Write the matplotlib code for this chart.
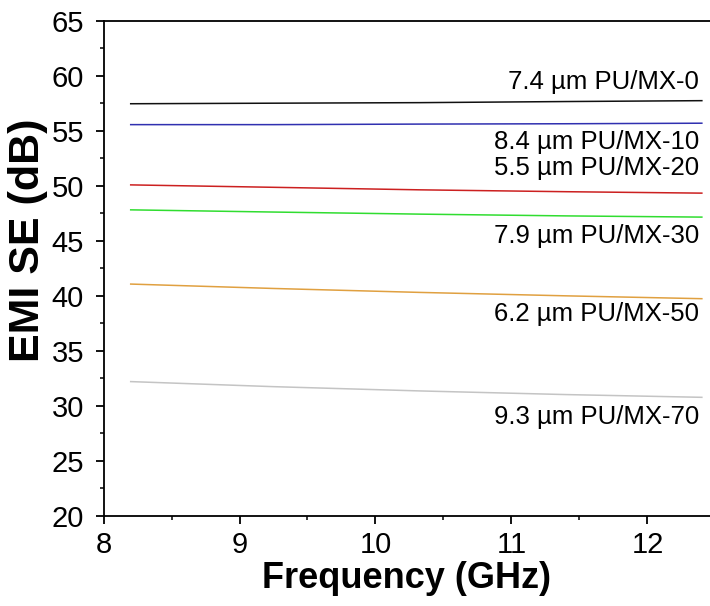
import matplotlib
matplotlib.use("Agg")
import matplotlib.pyplot as plt
from matplotlib.ticker import MultipleLocator

plt.rcParams["font.family"] = ["Liberation Sans", "DejaVu Sans"]

# data
freq = [8.2, 9.25, 10.33, 11.4, 12.4]
se_mx0 = [57.45, 57.50, 57.55, 57.65, 57.73]
se_mx10 = [55.55, 55.55, 55.60, 55.63, 55.68]
se_mx20 = [50.07, 49.85, 49.62, 49.45, 49.32]
se_mx30 = [47.80, 47.60, 47.41, 47.25, 47.14]
se_mx50 = [41.05, 40.65, 40.29, 39.98, 39.72]
se_mx70 = [32.18, 31.72, 31.33, 31.00, 30.75]

labels = ["7.4 µm PU/MX-0", "8.4 µm PU/MX-10", "5.5 µm PU/MX-20",
          "7.9 µm PU/MX-30", "6.2 µm PU/MX-50", "9.3 µm PU/MX-70"]
label_y = [59.4, 54.0, 51.6, 45.4, 38.3, 29.0]

series = [se_mx0, se_mx10, se_mx20, se_mx30, se_mx50, se_mx70]
colors = ["#111111", "#3030b0", "#cc2020", "#30dd30", "#e0a040", "#c4c4c4"]

fig = plt.figure(figsize=(7.1, 6.06), dpi=100)
ax = fig.add_axes([0.1458, 0.1493, 0.8542, 0.8165])

for ys, c in zip(series, colors):
    ax.plot(freq, ys, color=c, lw=1.1)

for txt, y in zip(labels, label_y):
    ax.text(12.38, y, txt, ha="right", va="center", fontsize=18.5)

ax.set_xlim(8, 12.46)
ax.set_ylim(20, 65)
ax.xaxis.set_major_locator(MultipleLocator(1))
ax.xaxis.set_minor_locator(MultipleLocator(0.5))
ax.yaxis.set_major_locator(MultipleLocator(5))
ax.yaxis.set_minor_locator(MultipleLocator(2.5))
ax.tick_params(which="major", direction="out", length=6, width=1.3,
               labelsize=21, top=False, right=False)
ax.tick_params(axis="y", which="major", pad=8)
ax.tick_params(axis="x", which="major", pad=5)
ax.tick_params(which="minor", direction="out", length=3, width=1.1,
               top=False, right=False)
ax.spines["right"].set_visible(False)
for s in ["left", "bottom", "top"]:
    ax.spines[s].set_linewidth(1.3)

ax.set_xlabel("Frequency (GHz)", fontsize=26, fontweight="bold", labelpad=1.5)
ax.set_ylabel("EMI SE (dB)", fontsize=31, fontweight="bold")
ax.yaxis.set_label_coords(-0.092, 0.557)

fig.savefig("out.png", dpi=100)
